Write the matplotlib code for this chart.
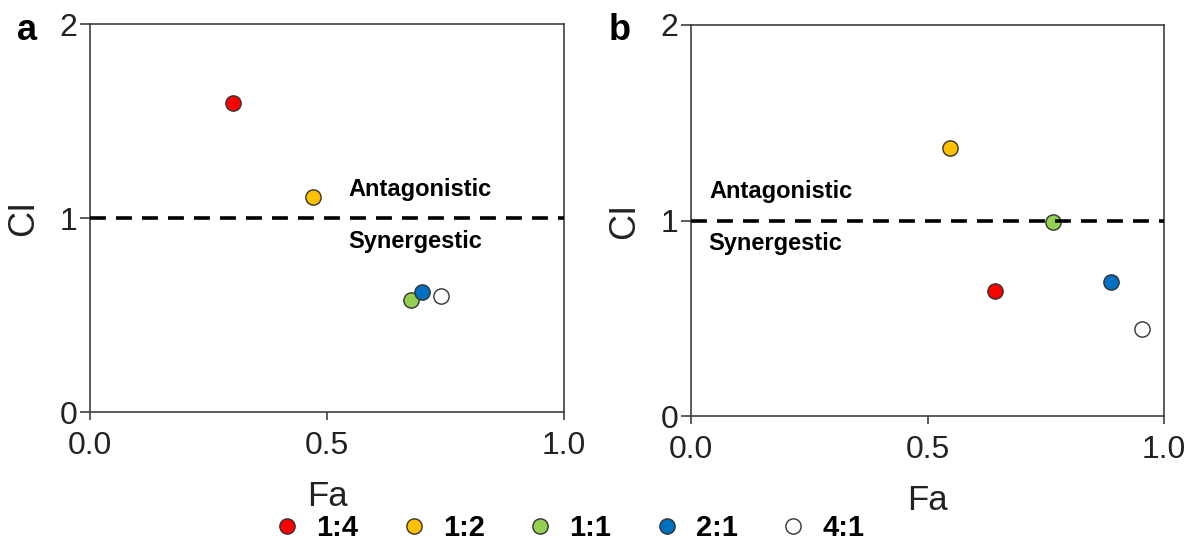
import matplotlib
matplotlib.use("Agg")
import matplotlib.pyplot as plt
from matplotlib.lines import Line2D

plt.rcParams['font.family'] = ['Liberation Sans', 'DejaVu Sans']

ratios = ["1:4", "1:2", "1:1", "2:1", "4:1"]
colors = ["#FF0000", "#FFC000", "#92D050", "#0070C0", "#FFFFFF"]

fa_a = [0.301, 0.470, 0.678, 0.701, 0.740]
ci_a = [1.592, 1.110, 0.575, 0.617, 0.600]

fa_b = [0.642, 0.547, 0.765, 0.889, 0.954]
ci_b = [0.640, 1.370, 0.990, 0.683, 0.445]

xticks = [0.0, 0.5, 1.0]
xticklabels = ["0.0", "0.5", "1.0"]
yticks = [0, 1, 2]
yticklabels = ["0", "1", "2"]

fig = plt.figure(figsize=(11.9, 5.5), dpi=100)
ax_a = fig.add_axes([90/1190, 1-412/550, 474/1190, 388/550])
ax_b = fig.add_axes([691/1190, 1-416/550, 473/1190, 391/550])

spine_col = "#404040"

def style(ax, fa, ci, ant_xy, syn_xy):
    ax.set_xlim(0, 1)
    ax.set_ylim(0, 2)
    for s in ax.spines.values():
        s.set_color(spine_col)
        s.set_linewidth(1.2)
    ax.set_xticks(xticks)
    ax.set_xticklabels(xticklabels)
    ax.set_yticks(yticks)
    ax.set_yticklabels(yticklabels)
    ax.tick_params(axis='x', direction='out', length=6, width=1.2, color=spine_col,
                   labelsize=23, pad=8, top=False, labelcolor='#222222')
    ax.tick_params(axis='y', direction='out', length=7, width=1.2, color=spine_col,
                   labelsize=23, pad=2, right=False, labelcolor='#222222')
    ax.axhline(1.0, color='black', lw=2.6, dashes=(4.4, 2.8), zorder=3)
    for x, y, c in zip(fa, ci, colors):
        ax.plot([x], [y], 'o', ms=11, mfc=c, mec='#333333', mew=1.0, zorder=2, linestyle='none')
    ax.set_xlabel("Fa", fontsize=25, labelpad=13, color='#222222')
    ax.set_ylabel("CI", fontsize=26, labelpad=13, color='#222222')
    ax.text(ant_xy[0], ant_xy[1], "Antagonistic", fontsize=17, fontweight='bold', va='center', ha='left')
    ax.text(syn_xy[0], syn_xy[1], "Synergestic", fontsize=17, fontweight='bold', va='center', ha='left')

style(ax_a, fa_a, ci_a, (0.545, 1.145), (0.545, 0.88))
style(ax_b, fa_b, ci_b, (0.038, 1.15), (0.037, 0.88))

fig.text(27/1190, 1-31/550, "a", fontsize=26, fontweight='bold', ha='center', va='center')
fig.text(620/1190, 1-31/550, "b", fontsize=26, fontweight='bold', ha='center', va='center')

handles = [Line2D([], [], marker='o', linestyle='none', ms=11, mfc=c, mec='#333333', mew=1.0)
           for c in colors]
leg = fig.legend(handles, ratios, loc='center', bbox_to_anchor=(570/1190, 1-528/550), ncol=5,
                 frameon=False, prop={'weight': 'bold', 'size': 21}, handlelength=0.8,
                 handletextpad=0.6, columnspacing=1.5, borderpad=0, borderaxespad=0)

fig.savefig("out.png", dpi=100)
